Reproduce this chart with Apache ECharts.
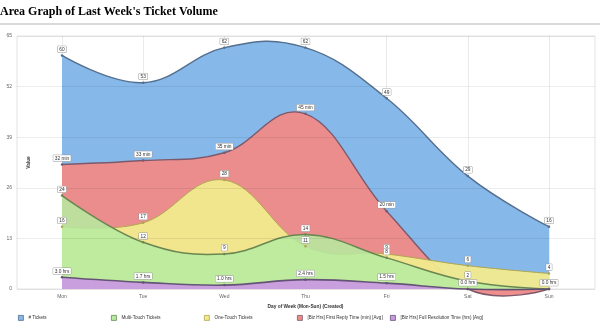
<!DOCTYPE html>
<html><head><meta charset="utf-8">
<script src="https://cdn.jsdelivr.net/npm/echarts@6/dist/echarts.min.js"></script>
<style>html,body{margin:0;padding:0;background:#fff}#c{width:600px;height:323px}</style>
</head><body><div id="c"></div>
<script>
const days = ['Mon','Tue','Wed','Thu','Fri','Sat','Sun'];
const yTicks = [0, 13, 26, 39, 52, 65];
const tickets = [60, 53, 62, 62, 49, 29, 16];
const multiTouch = [24, 12, 9, 14, 8, 2, 0];
const oneTouch = [16, 17, 28, 11, 9, 6, 4];
const firstReply = [32, 33, 35, 45, 20, 0, 0];
const fullRes = [3.0, 1.7, 1.0, 2.4, 1.5, 0.0, 0.0];
const names = ['# Tickets','Multi-Touch Tickets','One-Touch Tickets','[Biz Hrs] First Reply Time (min) [Avg]','[Biz Hrs] Full Resolution Time (hrs) [Avg]'];
const fills = ['#86b8ea','#b6eba0','#f1ea8e','#ee8b89','#c99be0'];
const fillOpacity = [1, 0.86, 0.95, 0.97, 0.95];
const lines = ['#546f8e','#6a8752','#b0a650','#7c5a6c','#655478'];
const lineWidths = [1.4, 1.5, 1, 1.4, 1.6];
const legendLeft = [13, 106, 199, 292, 385];

const labelBase = {show:true, position:'top', distance:2, fontSize:4.8, lineHeight:5.5, color:'#333',
  backgroundColor:'#fff', borderColor:'#999', borderWidth:0.5, padding:[0.5,1.5,0,1.5], fontFamily:'Liberation Sans'};

// Spline like the original charting tool (control points with smoothing 1.5 and tangent correction)
function splinePath(pts){
  const s = 1.5, d = s + 1;
  const lc = [], rc = [];
  for (let i = 0; i < pts.length; i++){
    const [x, y] = pts[i];
    if (i === 0 || i === pts.length - 1){ lc.push([x, y]); rc.push([x, y]); continue; }
    const [lx, ly] = pts[i-1], [nx, ny] = pts[i+1];
    const lcx = (s*x + lx)/d; let lcy = (s*y + ly)/d;
    const rcx = (s*x + nx)/d; let rcy = (s*y + ny)/d;
    let corr = 0;
    if (rcx !== lcx) corr = ((rcy - lcy)*(rcx - x))/(rcx - lcx) + y - rcy;
    lcy += corr; rcy += corr;
    lc.push([lcx, lcy]); rc.push([rcx, rcy]);
  }
  let p = 'M' + pts[0][0] + ',' + pts[0][1];
  for (let i = 1; i < pts.length; i++){
    p += ' C' + rc[i-1][0] + ',' + rc[i-1][1] + ' ' + lc[i][0] + ',' + lc[i][1] + ' ' + pts[i][0] + ',' + pts[i][1];
  }
  return p;
}

function areaSeries(idx, values){
  return {
    name: names[idx], type:'custom', xAxisIndex:0, yAxisIndex:0,
    data: values.map((v, i) => [i, v]),
    encode:{x:0, y:1}, silent:true,
    renderItem: function(params, api){
      if (params.dataIndex !== 0) return null;
      const pts = values.map((v, i) => api.coord([i, v]));
      const base = api.coord([0, 0])[1];
      const line = splinePath(pts);
      const area = line + ' L' + pts[pts.length-1][0] + ',' + base + ' L' + pts[0][0] + ',' + base + ' Z';
      return {type:'group', children:[
        {type:'path', shape:{pathData:area}, style:{fill:fills[idx], opacity:fillOpacity[idx], stroke:null}},
        {type:'path', shape:{pathData:line}, style:{fill:null, stroke:lines[idx], lineWidth:lineWidths[idx]}}
      ]};
    }
  };
}

function labelSeries(idx, values, fmt, hideZero){
  return {
    name: names[idx], type:'line', xAxisIndex:0, yAxisIndex:0,
    data: values.map(v => (hideZero && v === 0) ? {value:v, label:{show:false}} : v),
    symbol:'circle', symbolSize:2.5, showSymbol:true,
    itemStyle:{color:lines[idx]},
    lineStyle:{width:0, opacity:0},
    label: Object.assign({}, labelBase, {formatter: p => fmt(p.value)}),
    emphasis:{disabled:true}, silent:true
  };
}

const series = [
  areaSeries(0, tickets),
  areaSeries(3, firstReply),
  areaSeries(2, oneTouch),
  areaSeries(1, multiTouch),
  areaSeries(4, fullRes),
  labelSeries(0, tickets, v => String(v), false),
  labelSeries(3, firstReply, v => v + ' min', true),
  labelSeries(2, oneTouch, v => String(v), true),
  labelSeries(1, multiTouch, v => String(v), true),
  labelSeries(4, fullRes, v => v.toFixed(1) + ' hrs', false)
];

const legends = names.map((n, i) => ({
  data:[{name:n, itemStyle:{color:fills[i], borderColor:lines[i], borderWidth:0.8}}],
  left: legendLeft[i], top: 310, itemWidth:5, itemHeight:5, itemGap:3,
  icon:'rect', selectedMode:false,
  textStyle:{fontSize:4.6, color:'#333', fontFamily:'Liberation Sans'}
}));

const chart = echarts.init(document.getElementById('c'), null, {renderer:'canvas'});
chart.setOption({
  animation:false,
  backgroundColor:'#fff',
  title:{text:"Area Graph of Last Week's Ticket Volume", left:-5, top:1,
    textStyle:{fontFamily:'Liberation Serif', fontWeight:'bold', fontSize:12, color:'#000'}},
  graphic:[{type:'line', shape:{x1:0, y1:24, x2:600, y2:24}, style:{stroke:'#b5b5b5', lineWidth:1.2}}],
  legend: legends,
  grid:[
    {left:62, right:51, top:36, bottom:34},
    {left:17, right:5, top:36, bottom:34, show:true, borderColor:'#e3e3e3', borderWidth:1, z:0}
  ],
  xAxis:[
    {type:'category', gridIndex:0, data:days, boundaryGap:false,
      axisLine:{show:false}, axisTick:{show:false},
      axisLabel:{fontSize:5, color:'#666', margin:5, fontFamily:'Liberation Sans'},
      splitLine:{show:true, lineStyle:{color:'rgba(0,0,0,0.08)', width:1}},
      name:'Day of Week (Mon-Sun) (Created)', nameLocation:'middle', nameGap:15,
      nameTextStyle:{fontSize:4.8, fontWeight:'bold', color:'#333', fontFamily:'Liberation Sans'}},
    {type:'value', gridIndex:1, show:false, min:0, max:1}
  ],
  yAxis:[
    {type:'value', gridIndex:0, min:0, max:65, interval:13,
      axisLabel:{show:false}, axisLine:{show:false}, axisTick:{show:false}, splitLine:{show:false},
      name:'Value', nameLocation:'middle', nameGap:31, nameRotate:90,
      nameTextStyle:{fontSize:4.8, fontWeight:'bold', color:'#333', fontFamily:'Liberation Sans'}},
    {type:'value', gridIndex:1, min:yTicks[0], max:yTicks[yTicks.length-1], interval:yTicks[1]-yTicks[0], z:10,
      axisLine:{show:false}, axisTick:{show:false},
      axisLabel:{fontSize:5, color:'#666', margin:5, fontFamily:'Liberation Sans'},
      splitLine:{show:true, lineStyle:{color:'rgba(0,0,0,0.07)', width:1}}}
  ],
  series: series
});
</script></body></html>
